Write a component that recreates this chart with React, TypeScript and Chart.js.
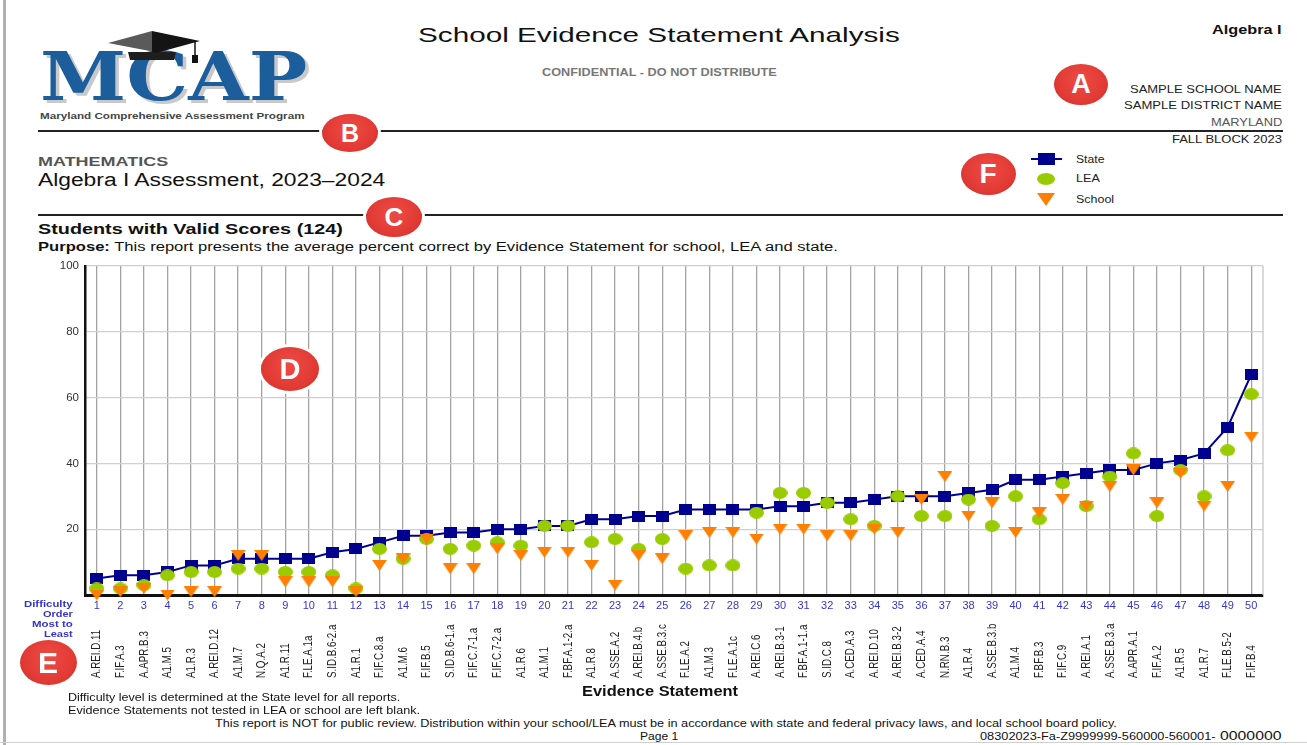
import React, { useEffect, useLayoutEffect, useRef } from 'react';
import { Chart, registerables } from 'chart.js';

Chart.register(...registerables);

const FONT = '"Liberation Sans", Arial, sans-serif';

const difficultyOrder = [
  '1', '2', '3', '4', '5', '6', '7', '8', '9', '10',
  '11', '12', '13', '14', '15', '16', '17', '18', '19', '20',
  '21', '22', '23', '24', '25', '26', '27', '28', '29', '30',
  '31', '32', '33', '34', '35', '36', '37', '38', '39', '40',
  '41', '42', '43', '44', '45', '46', '47', '48', '49', '50',
];

const evidenceStatements = [
  'A.REI.D.11', 'F.IF.A.3', 'A.APR.B.3', 'A1.M.5', 'A1.R.3', 'A.REI.D.12', 'A1.M.7', 'N.Q.A.2', 'A1.R.11', 'F.LE.A.1a',
  'S.ID.B.6-2.a', 'A1.R.1', 'F.IF.C.8.a', 'A1.M.6', 'F.IF.B.5', 'S.ID.B.6-1.a', 'F.IF.C.7-1.a', 'F.IF.C.7-2.a', 'A1.R.6', 'A1.M.1',
  'F.BF.A.1-2.a', 'A1.R.8', 'A.SSE.A.2', 'A.REI.B.4.b', 'A.SSE.B.3.c', 'F.LE.A.2', 'A1.M.3', 'F.LE.A.1c', 'A.REI.C.6', 'A.REI.B.3-1',
  'F.BF.A.1-1.a', 'S.ID.C.8', 'A.CED.A.3', 'A.REI.D.10', 'A.REI.B.3-2', 'A.CED.A.4', 'N.RN.B.3', 'A1.R.4', 'A.SSE.B.3.b', 'A1.M.4',
  'F.BF.B.3', 'F.IF.C.9', 'A.REI.A.1', 'A.SSE.B.3.a', 'A.APR.A.1', 'F.IF.A.2', 'A1.R.5', 'A1.R.7', 'F.LE.B.5-2', 'F.IF.B.4',
];

const stateValues = [
  5, 6, 6, 7, 9, 9, 11, 11, 11, 11,
  13, 14, 16, 18, 18, 19, 19, 20, 20, 21,
  21, 23, 23, 24, 24, 26, 26, 26, 26, 27,
  27, 28, 28, 29, 30, 30, 30, 31, 32, 35,
  35, 36, 37, 38, 38, 40, 41, 43, 51, 67,
];

const leaValues = [
  2, 2, 3, 6, 7, 7, 8, 8, 7, 7,
  6, 2, 14, 11, 17, 14, 15, 16, 15, 21,
  21, 16, 17, 14, 17, 8, 9, 9, 25, 31,
  31, 28, 23, 21, 30, 24, 24, 29, 21, 30,
  23, 34, 27, 36, 43, 24, 38, 30, 44, 61,
];

const schoolValues = [
  0, 1, 2, 0, 1, 1, 12, 12, 4, 4,
  4, 1, 9, 11, 17, 8, 8, 14, 12, 13,
  13, 9, 3, 12, 11, 18, 19, 19, 17, 20,
  20, 18, 18, 20, 19, 29, 36, 24, 28, 19,
  25, 29, 27, 33, 38, 28, 37, 27, 33, 48,
];

const yTicks = [0, 20, 40, 60, 80, 100];

const NAVY = '#00008f';
const GREEN = '#99cc00';
const ORANGE = '#ff7f00';
const RED = '#e23b36';
const BLUE_TXT = '#3535cc';

type TProps = {
  x: number;
  y: number;
  w?: number;
  size: number;
  bold?: boolean;
  color?: string;
  anchor?: 'left' | 'center' | 'right';
  family?: string;
  style?: React.CSSProperties;
  children: React.ReactNode;
};

function T({ x, y, w, size, bold, color = '#111', anchor = 'left', family = FONT, style, children }: TProps) {
  const ref = useRef<HTMLDivElement>(null);
  useLayoutEffect(() => {
    const el = ref.current;
    if (!el || !w) return;
    const nat = el.offsetWidth;
    if (nat > 0) el.style.transform = `scaleX(${w / nat})`;
  }, [w]);
  const width = w ?? 0;
  const left = anchor === 'left' ? x : anchor === 'center' ? x - width / 2 : x - width;
  return (
    <div
      ref={ref}
      style={{
        position: 'absolute',
        left,
        top: y - size * 0.6,
        fontSize: size,
        lineHeight: `${size * 1.2}px`,
        fontFamily: family,
        fontWeight: bold ? 'bold' : 'normal',
        color,
        whiteSpace: 'nowrap',
        transformOrigin: 'left center',
        display: 'inline-block',
        ...style,
      }}
    >
      {children}
    </div>
  );
}

function Badge({ cx, cy, w, h, letter, ring }: { cx: number; cy: number; w: number; h: number; letter: string; ring?: boolean }) {
  return (
    <div
      style={{
        position: 'absolute',
        left: cx - w / 2,
        top: cy - h / 2,
        width: w,
        height: h,
        borderRadius: '50%',
        background: `radial-gradient(ellipse at 50% 40%, #ee4a44 0%, ${RED} 60%, #cc2a26 100%)`,
        boxShadow: ring ? '0 0 0 3px #ffffff' : 'none',
        color: '#fff',
        fontFamily: FONT,
        fontWeight: 'bold',
        fontSize: Math.round(h * 0.66),
        lineHeight: `${h}px`,
        textAlign: 'center',
        zIndex: 5,
      }}
    >
      {letter}
    </div>
  );
}

function makeMarker(w: number, h: number, draw: (ctx: CanvasRenderingContext2D) => void) {
  const c = document.createElement('canvas');
  c.width = w;
  c.height = h;
  const ctx = c.getContext('2d');
  if (ctx) draw(ctx);
  return c;
}

function EvidenceChart() {
  const canvasRef = useRef<HTMLCanvasElement>(null);

  useEffect(() => {
    const canvas = canvasRef.current;
    if (!canvas) return;

    const square = makeMarker(13, 11, (ctx) => {
      ctx.fillStyle = NAVY;
      ctx.fillRect(0, 0, 13, 11);
    });
    const circle = makeMarker(15, 12, (ctx) => {
      ctx.fillStyle = GREEN;
      ctx.beginPath();
      ctx.ellipse(7.5, 6, 7.5, 6, 0, 0, Math.PI * 2);
      ctx.fill();
    });
    const triangle = makeMarker(15, 11, (ctx) => {
      ctx.fillStyle = ORANGE;
      ctx.beginPath();
      ctx.moveTo(0, 0);
      ctx.lineTo(15, 0);
      ctx.lineTo(7.5, 11);
      ctx.closePath();
      ctx.fill();
    });

    const labelsPlugin = {
      id: 'evidenceLabels',
      beforeDatasetsDraw(chart: any) {
        const { ctx, chartArea } = chart;
        ctx.save();
        ctx.strokeStyle = '#c6c6c6';
        ctx.lineWidth = 1.3;
        ctx.beginPath();
        ctx.moveTo(chartArea.right, chartArea.top);
        ctx.lineTo(chartArea.right, chartArea.bottom);
        ctx.stroke();
        ctx.restore();
      },
      afterDraw(chart: any) {
        const { ctx } = chart;
        const xs = chart.scales.x;
        const baseY = chart.chartArea.bottom + 83;
        ctx.save();
        ctx.fillStyle = '#222';
        ctx.font = `9.8px ${FONT}`;
        ctx.textAlign = 'left';
        ctx.textBaseline = 'middle';
        evidenceStatements.forEach((label, i) => {
          const x = xs.getPixelForValue(i);
          ctx.save();
          ctx.translate(x, baseY);
          ctx.scale(1.35, 1);
          ctx.rotate(-Math.PI / 2);
          ctx.fillText(label, 0, 0);
          ctx.restore();
        });
        ctx.restore();
      },
    };

    const chart = new Chart(canvas, {
      type: 'line',
      data: {
        labels: difficultyOrder,
        datasets: [
          {
            label: 'State',
            data: stateValues,
            borderColor: NAVY,
            backgroundColor: NAVY,
            borderWidth: 2,
            pointStyle: square as any,
            pointRadius: 6,
            order: 2,
            clip: false as any,
          },
          {
            label: 'LEA',
            data: leaValues,
            showLine: false,
            borderColor: GREEN,
            backgroundColor: GREEN,
            pointStyle: circle as any,
            pointRadius: 6,
            order: 1,
            clip: false as any,
          },
          {
            label: 'School',
            data: schoolValues,
            showLine: false,
            borderColor: ORANGE,
            backgroundColor: ORANGE,
            pointStyle: triangle as any,
            pointRadius: 6,
            order: 0,
            clip: false as any,
          },
        ],
      },
      options: {
        responsive: false,
        maintainAspectRatio: false,
        animation: false,
        devicePixelRatio: 1,
        events: [],
        layout: { padding: { top: 8, left: 0, right: 0, bottom: 0 } },
        plugins: {
          legend: { display: false },
          tooltip: { enabled: false },
          title: { display: false },
        },
        scales: {
          x: {
            type: 'category',
            offset: true,
            grid: { offset: false, color: '#a3a3a3', lineWidth: 1.3, drawTicks: false },
            border: { color: '#111', width: 3 },
            ticks: {
              color: BLUE_TXT,
              font: { size: 11, family: FONT },
              padding: 4,
              autoSkip: false,
              maxRotation: 0,
              minRotation: 0,
            },
            afterFit: (s: any) => {
              s.height = 98;
            },
          },
          y: {
            min: yTicks[0],
            max: yTicks[yTicks.length - 1],
            grid: { color: '#d0d0d0', lineWidth: 1.3, drawTicks: false },
            border: { color: '#111', width: 2.5 },
            ticks: {
              stepSize: 20,
              color: '#333',
              font: { size: 11.5, family: FONT },
              padding: 6,
              callback: (v: any) => (Number(v) === 0 ? '' : String(v)),
            },
            afterFit: (s: any) => {
              s.width = 65;
            },
          },
        },
      },
      plugins: [labelsPlugin],
    });

    return () => chart.destroy();
  }, []);

  return (
    <canvas
      ref={canvasRef}
      width={1251}
      height={440}
      style={{ position: 'absolute', left: 20, top: 253, width: 1251, height: 440 }}
    />
  );
}

function Legend() {
  return (
    <>
      <div style={{ position: 'absolute', left: 1031, top: 158, width: 31, height: 2, background: NAVY }} />
      <div style={{ position: 'absolute', left: 1038, top: 153, width: 17, height: 12, background: NAVY }} />
      <T x={1076} y={159.5} w={29} size={10.5} color="#222">State</T>
      <div style={{ position: 'absolute', left: 1037, top: 172.5, width: 18, height: 12, borderRadius: '50%', background: GREEN }} />
      <T x={1076} y={178.5} w={24} size={10.5} color="#222">LEA</T>
      <div
        style={{
          position: 'absolute',
          left: 1037,
          top: 193,
          width: 0,
          height: 0,
          borderLeft: '9.5px solid transparent',
          borderRight: '9.5px solid transparent',
          borderTop: `13px solid ${ORANGE}`,
        }}
      />
      <T x={1076} y={199.5} w={38} size={10.5} color="#222">School</T>
    </>
  );
}

function Logo() {
  return (
    <>
      <T
        x={40}
        y={77}
        w={267}
        size={68}
        bold
        color="#1c5d9c"
        family='"DejaVu Serif", "Liberation Serif", serif'
        style={{ textShadow: '3px 3px 0 #c9c9c9' }}
      >
        MCAP
      </T>
      <svg width={120} height={40} style={{ position: 'absolute', left: 100, top: 28 }}>
        <polygon points="28,24 40,24 76,24 74,32 30,32" fill="#1e1e1e" />
        <polygon points="8,15 52,3 52,24 55,24" fill="#5a5a5a" />
        <polygon points="52,3 100,13 56,25 52,24" fill="#141414" />
        <line x1={95} y1={14} x2={95} y2={28} stroke="#111" strokeWidth={1.5} />
        <rect x={92} y={27} width={6} height={8} fill="#111" />
      </svg>
      <T x={40} y={115.5} w={265} size={9.5} bold color="#444">
        Maryland Comprehensive Assessment Program
      </T>
    </>
  );
}

export default function App() {
  return (
    <div
      style={{
        position: 'absolute',
        left: 0,
        top: 0,
        width: 1307,
        height: 745,
        background: '#fff',
        overflow: 'hidden',
        fontFamily: FONT,
      }}
    >
      <div style={{ position: 'absolute', left: 3, top: 0, width: 3, height: 745, background: '#b0b0b0' }} />
      <div style={{ position: 'absolute', left: 0, top: 742, width: 1307, height: 1, background: '#cfcfcf' }} />

      <Logo />

      <T x={418} y={35} w={482} size={21} color="#111">School Evidence Statement Analysis</T>
      <T x={542} y={73} w={235} size={10} bold color="#777">CONFIDENTIAL - DO NOT DISTRIBUTE</T>
      <T x={1282} y={30} w={70} size={13} bold anchor="right" color="#111">Algebra I</T>
      <T x={1282} y={89} w={152} size={10.5} anchor="right" color="#222">SAMPLE SCHOOL NAME</T>
      <T x={1282} y={105} w={158} size={10.5} anchor="right" color="#222">SAMPLE DISTRICT NAME</T>
      <T x={1282} y={122} w={71} size={10.5} anchor="right" color="#555">MARYLAND</T>
      <div style={{ position: 'absolute', left: 38, top: 130, width: 1245, height: 2, background: '#222' }} />
      <T x={1282} y={139} w={110} size={10.5} anchor="right" color="#222">FALL BLOCK 2023</T>

      <T x={38} y={162} w={130} size={13} bold color="#555">MATHEMATICS</T>
      <T x={38} y={181} w={347} size={18} color="#111">Algebra I Assessment, 2023–2024</T>
      <Legend />
      <div style={{ position: 'absolute', left: 38, top: 214, width: 1245, height: 2, background: '#222' }} />

      <T x={38} y={229} w={305} size={15} bold color="#111">Students with Valid Scores (124)</T>
      <T x={38} y={247} w={800} size={12.5} color="#111">
        <b>Purpose:</b> This report presents the average percent correct by Evidence Statement for school, LEA and state.
      </T>

      <EvidenceChart />

      <T x={73} y={603.5} w={49} size={9.5} bold anchor="right" color={BLUE_TXT}>Difficulty</T>
      <T x={73} y={614} w={30} size={9.5} bold anchor="right" color={BLUE_TXT}>Order</T>
      <T x={73} y={624} w={41} size={9.5} bold anchor="right" color={BLUE_TXT}>Most to</T>
      <T x={73} y={634} w={29} size={9.5} bold anchor="right" color={BLUE_TXT}>Least</T>

      <T x={582} y={691.5} w={156} size={14} bold color="#111">Evidence Statement</T>
      <T x={68} y={697.5} w={332} size={10.5} color="#111">
        Difficulty level is determined at the State level for all reports.
      </T>
      <T x={68} y={710.7} w={352} size={10.5} color="#111">
        Evidence Statements not tested in LEA or school are left blank.
      </T>
      <T x={215} y={723} w={902} size={10.5} color="#111">
        This report is NOT for public review. Distribution within your school/LEA must be in accordance with state and federal privacy laws, and local school board policy.
      </T>
      <T x={640} y={736.5} w={38} size={10.5} color="#111">Page 1</T>
      <T x={980} y={736.5} w={236} size={10} color="#111">08302023-Fa-Z9999999-560000-560001-</T>
      <T x={1220} y={735.5} w={62} size={13} color="#111">0000000</T>

      <Badge cx={1081} cy={84} w={54} h={41} letter="A" />
      <Badge cx={350} cy={133} w={56} h={38} letter="B" ring />
      <Badge cx={394} cy={217} w={56} h={40} letter="C" ring />
      <Badge cx={290} cy={369} w={58} h={44} letter="D" ring />
      <Badge cx={48} cy={662} w={57} h={45} letter="E" ring />
      <Badge cx={988} cy={174} w={55} h={42} letter="F" />
    </div>
  );
}
